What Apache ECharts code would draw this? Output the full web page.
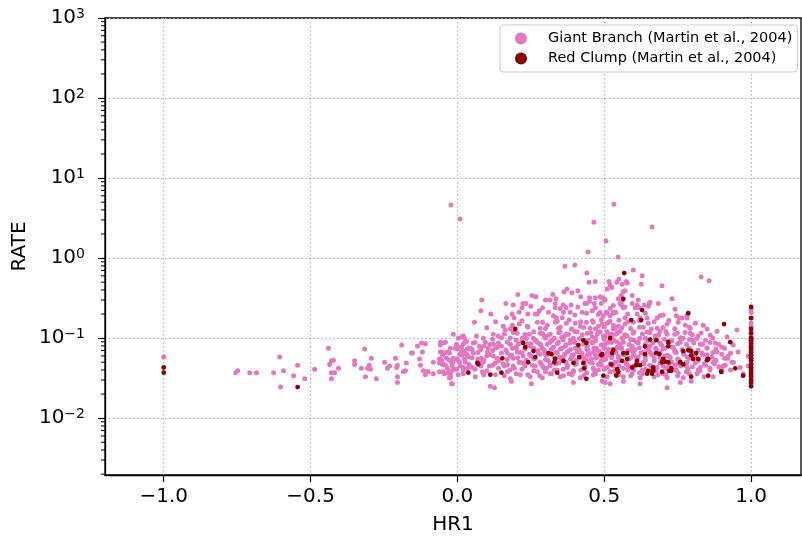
<!DOCTYPE html>
<html>
<head>
<meta charset="utf-8">
<script src="https://cdn.jsdelivr.net/npm/echarts@6/dist/echarts.min.js"></script>
<style>
  html, body { margin: 0; padding: 0; background: #fff; }
  #main { width: 802px; height: 540px; }
</style>
</head>
<body>
<div id="main"></div>
<script>
// HR1 vs RATE
var giantFar = [
    [-1.0,0.058],[-0.755,0.037],[-0.748,0.039],[-0.707,0.037],[-0.684,0.037],[-0.626,0.037],[-0.605,0.058],
    [-0.592,0.039],[-0.602,0.0245],[-0.558,0.034],[-0.544,0.046],[-0.520,0.031],[-0.486,0.041],[-0.439,0.075],
    [-0.435,0.047],[-0.429,0.052],[-0.422,0.053],[-0.429,0.037],[-0.418,0.037],[-0.429,0.031],[-0.405,0.042],
    [-0.350,0.052],[-0.350,0.047],[-0.327,0.042],[-0.316,0.073],[-0.313,0.033],[-0.300,0.046],[-0.306,0.042],
    [-0.296,0.041],[-0.293,0.056],[-0.276,0.031],[-0.248,0.050],[-0.238,0.042],[-0.231,0.045],[-0.211,0.056],
    [-0.207,0.043],[-0.204,0.046],[-0.204,0.033],[-0.204,0.028],[-0.190,0.082],[-0.184,0.038],[-0.177,0.039],
    [-0.174,0.049],[-0.156,0.065],[-0.153,0.065],[-0.136,0.080],[-0.129,0.055],[-0.126,0.046],[-0.122,0.087],
    [-0.109,0.085],[-0.119,0.067],[-0.116,0.039],[-0.109,0.035],[-0.105,0.038],[-0.099,0.038],[-0.082,0.050],
    [-0.082,0.036],[-0.061,0.055],[-0.054,0.053],[-0.058,0.089],[-0.048,0.087],[-0.058,0.067],[-0.054,0.067],
    [-0.044,0.065],[-0.061,0.049],[-0.051,0.049],[-0.041,0.046],[-0.037,0.056],[-0.027,0.065],[-0.027,0.053],
    [-0.020,0.050],[-0.014,0.052],[-0.061,0.038],[-0.048,0.038],[-0.034,0.037],[-0.020,0.039],[-0.010,0.041],
    [-0.024,0.035],[-0.027,0.032],[-0.017,0.027],[0.014,0.103],[0.024,0.100],[0.031,0.092],[-0.007,0.075],
    [0.003,0.077],[0.014,0.067],[0.024,0.065],[0.034,0.073],[-0.003,0.055],[0.003,0.053],[0.014,0.061],
    [0.024,0.055],[0.034,0.061],[-0.017,0.045],[-0.003,0.041],[0.007,0.050],[0.020,0.043],[0.020,0.036],[0.034,0.042]
];

var giantHigh = [
    [-0.022,4.6],[0.009,3.07],[0.533,4.7],[0.465,2.8],[0.506,1.63],[0.445,1.19],[0.547,1.03],[0.663,2.44],
    [0.366,0.79],[0.40,0.82],[0.441,0.65],[0.448,0.50],[0.469,0.51],[0.516,0.51],[0.52,0.46],[0.526,0.43],
    [0.543,0.50],[0.55,0.55],[0.599,0.71],[0.629,0.60],[0.626,0.47],[0.697,0.45],[0.83,0.58],[0.857,0.52],
    [0.51,0.41],[0.561,0.47],[0.575,0.51],[0.578,0.49],[0.565,0.38],[0.571,0.39],[0.558,0.34],[0.595,0.34],
    [0.083,0.30],[0.08,0.22],[0.114,0.20],[0.206,0.35],[0.165,0.27],[0.19,0.26],[0.223,0.27],[0.233,0.27],
    [0.254,0.34],[0.267,0.33],[0.25,0.25],[0.21,0.21],[0.22,0.24],[0.30,0.30],[0.315,0.30],[0.325,0.35],
    [0.336,0.31],[0.333,0.27],[0.333,0.24],[0.373,0.41],[0.363,0.38],[0.39,0.37],[0.41,0.39],[0.42,0.33],
    [0.36,0.26],[0.37,0.24],[0.387,0.26],[0.434,0.27],[0.44,0.27],[0.45,0.29],[0.45,0.32],[0.469,0.32],
    [0.486,0.33],[0.50,0.31],[0.167,0.18],[0.186,0.20],[0.193,0.18],[0.265,0.20],[0.279,0.22],[0.272,0.20],
    [0.327,0.19],[0.337,0.18],[0.361,0.21],[0.357,0.18],[0.384,0.21],[0.425,0.21],[0.459,0.22],[0.466,0.27],
    [0.507,0.21],[0.52,0.19],[0.531,0.21],[0.554,0.27],[0.548,0.31],[0.558,0.26],[0.565,0.24],[0.595,0.27],
    [0.605,0.24],[0.612,0.26],[0.636,0.26],[0.653,0.27],[0.65,0.25],[0.684,0.27],[0.731,0.31],[0.741,0.23],
    [0.745,0.19],[0.503,0.30],[0.49,0.27],[0.493,0.32],[0.486,0.21],[0.51,0.205],[0.531,0.205],[0.646,0.178],
    [0.622,0.18],[0.68,0.178],[0.755,0.178],[0.765,0.178],[0.782,0.178],[0.531,0.255],[0.561,0.29],
    [0.616,0.30],[0.656,0.28],[0.497,0.19],[0.571,0.18],[0.612,0.2],[0.69,0.19],[0.782,0.19]
];

var giantMid = [
    [0.058,0.158],[0.156,0.141],[0.187,0.145],[0.211,0.15],[0.238,0.141],[0.272,0.158],[0.282,0.133],
    [0.306,0.145],[0.333,0.158],[0.344,0.133],[0.371,0.154],[0.388,0.13],[0.401,0.154],[0.418,0.141],
    [0.439,0.158],[0.452,0.133],[0.463,0.158],[0.480,0.141],[0.510,0.154],[0.531,0.145],[0.548,0.141],
    [-0.014,0.112],[0.003,0.10],[0.020,0.106],[0.065,0.106],[0.088,0.10],[0.122,0.112],[0.139,0.106],
    [0.163,0.126],[0.180,0.10],[0.204,0.115],[0.221,0.10],[0.245,0.112],[0.259,0.10],[0.282,0.115],
    [0.296,0.106],[0.316,0.112],[0.330,0.10],[0.350,0.12],[0.364,0.106],[0.378,0.112],[0.395,0.10],
    [0.408,0.12],[0.442,0.115],[0.459,0.103],[0.476,0.112],[0.497,0.106],[0.510,0.12],[0.527,0.106],[0.541,0.112],
    [0.493,0.15],[0.514,0.158],[0.537,0.133],[0.571,0.15],[0.599,0.158],[0.633,0.137],[0.650,0.154],
    [0.680,0.133],[0.714,0.15],[0.752,0.158],[0.776,0.145],[0.793,0.133],[0.810,0.154],[0.837,0.145],
    [0.486,0.12],[0.503,0.106],[0.527,0.112],[0.554,0.122],[0.578,0.106],[0.599,0.115],[0.622,0.10],
    [0.646,0.119],[0.673,0.106],[0.690,0.122],[0.714,0.112],[0.748,0.115],[0.769,0.10],[0.793,0.115],
    [0.820,0.106],[0.861,0.109],[0.884,0.122],[0.918,0.103],[0.952,0.126]
];

var giantCore = [
    [-0.058,0.082],[-0.041,0.089],[-0.024,0.075],[-0.003,0.084],[0.014,0.077],[0.027,0.089],[0.044,0.075],
    [0.054,0.087],[0.075,0.079],[0.095,0.089],[0.105,0.075],[0.122,0.084],[0.136,0.077],[0.170,0.089],
    [0.187,0.075],[0.207,0.084],[0.248,0.079],[0.272,0.089],[0.289,0.075],[0.306,0.084],[0.327,0.077],
    [0.344,0.089],[0.367,0.079],[0.384,0.087],[0.401,0.075],[0.442,0.079],[0.459,0.089],[0.473,0.075],
    [0.503,0.084],[0.544,0.089],
    [-0.051,0.061],[-0.034,0.067],[-0.014,0.056],[0.007,0.063],[0.020,0.069],[0.037,0.058],[0.054,0.065],
    [0.082,0.056],[0.102,0.067],[0.122,0.060],[0.170,0.065],[0.190,0.056],[0.204,0.067],[0.224,0.060],
    [0.282,0.063],[0.296,0.069],[0.347,0.058],[0.374,0.067],[0.391,0.058],[0.408,0.067],[0.442,0.061],
    [0.463,0.067],[0.476,0.058],[0.510,0.065],[0.548,0.058],
    [-0.051,0.047],[-0.034,0.042],[-0.017,0.050],[0.010,0.045],[0.027,0.050],[0.051,0.043],[0.088,0.050],
    [0.109,0.045],[0.129,0.049],[0.170,0.047],[0.194,0.042],[0.214,0.050],[0.265,0.045],[0.282,0.050],
    [0.303,0.042],[0.316,0.047],[0.374,0.043],[0.401,0.047],[0.452,0.050],[0.463,0.042],[0.480,0.047],
    [0.503,0.042],[0.537,0.050],
    [-0.044,0.036],[-0.024,0.032],[0.003,0.035],[0.020,0.039],[0.061,0.033],[0.085,0.038],[0.129,0.035],
    [0.170,0.038],[0.180,0.031],[0.214,0.035],[0.248,0.033],[0.272,0.038],[0.289,0.032],[0.316,0.036],
    [0.361,0.034],[0.395,0.038],[0.418,0.032],[0.463,0.035],[0.520,0.038],
    [-0.020,0.027],[0.112,0.025],[0.126,0.024],[0.184,0.029],[0.252,0.027],[0.395,0.028],[0.493,0.029],
    [0.493,0.082],[0.514,0.089],[0.544,0.077],[0.565,0.089],[0.595,0.079],[0.616,0.087],[0.656,0.079],
    [0.690,0.087],[0.735,0.077],[0.759,0.089],[0.827,0.084],[0.850,0.075],[0.878,0.087],[0.901,0.077],[0.939,0.082],
    [0.497,0.058],[0.514,0.067],[0.548,0.060],[0.599,0.067],[0.616,0.058],[0.656,0.067],[0.707,0.060],
    [0.741,0.067],[0.782,0.058],[0.833,0.065],[0.867,0.058],[0.884,0.067],[0.922,0.060],[0.956,0.067],
    [0.486,0.049],[0.510,0.043],[0.537,0.050],[0.582,0.045],[0.633,0.050],[0.680,0.043],[0.741,0.046],
    [0.782,0.050],[0.827,0.043],[0.871,0.050],[0.912,0.046],[0.935,0.050],[0.963,0.043],
    [0.520,0.038],[0.565,0.033],[0.595,0.036],[0.622,0.032],[0.684,0.035],[0.714,0.032],[0.752,0.037],
    [0.769,0.032],[0.816,0.036],[0.871,0.033],[0.901,0.038],[0.973,0.036],
    [0.503,0.028],[0.520,0.027],[0.565,0.029],[0.622,0.027],[0.714,0.024],[0.759,0.028],[0.796,0.029]
];

var giantFill = [
    [0.26,0.055],[0.275,0.07],[0.29,0.045],[0.3,0.062],[0.31,0.052],[0.32,0.072],[0.335,0.048],[0.34,0.066],
    [0.355,0.075],[0.36,0.058],[0.37,0.05],[0.38,0.07],[0.395,0.062],[0.405,0.053],[0.415,0.072],[0.425,0.064],
    [0.43,0.056],[0.445,0.07],[0.455,0.055],[0.465,0.075],[0.47,0.062],[0.485,0.068],[0.49,0.052],[0.5,0.075],
    [0.505,0.055],[0.515,0.072],[0.525,0.06],[0.53,0.045],[0.54,0.068],[0.55,0.052],[0.555,0.075],[0.565,0.062],
    [0.575,0.048],[0.58,0.07],[0.59,0.057],[0.6,0.045],[0.605,0.072],[0.61,0.05],[0.625,0.065],[0.63,0.04],
    [0.64,0.058],[0.645,0.072],[0.655,0.046],[0.665,0.062],[0.67,0.052],[0.68,0.07],[0.69,0.056],[0.7,0.045],
    [0.705,0.075],[0.72,0.06],[0.73,0.05],[0.74,0.07],[0.75,0.055],[0.76,0.045],[0.77,0.065],[0.78,0.05],
    [0.79,0.07],[0.8,0.044],[0.81,0.06],[0.82,0.052],[0.84,0.048],[0.85,0.062],[0.86,0.04],[0.88,0.052],
    [0.89,0.044],[0.91,0.056],[0.93,0.04],[0.94,0.05],
    [0.28,0.085],[0.32,0.092],[0.36,0.095],[0.4,0.09],[0.43,0.095],[0.47,0.092],[0.52,0.095],[0.56,0.1],
    [0.6,0.095],[0.64,0.1],[0.68,0.096],[0.72,0.092],[0.76,0.1],[0.8,0.095],
    [0.3,0.038],[0.34,0.04],[0.38,0.036],[0.42,0.04],[0.44,0.037],[0.48,0.04],[0.54,0.036],[0.58,0.04],
    [0.62,0.037],[0.66,0.04],[0.7,0.036],[0.74,0.04],[0.78,0.038],[0.82,0.04],
    [0.1,0.06],[0.12,0.07],[0.14,0.052],[0.15,0.08],[0.16,0.045],[0.18,0.06],[0.2,0.075],[0.21,0.05],
    [0.22,0.065],[0.23,0.045],[0.24,0.085],[0.25,0.06],[0.05,0.072],[0.07,0.055],[0.08,0.045],[0.09,0.08]
];

var giantDense = [
    [0.16,0.113],[0.19,0.118],[0.23,0.111],[0.26,0.12],[0.29,0.114],[0.31,0.109],[0.345,0.117],[0.37,0.112],
    [0.40,0.121],[0.425,0.11],[0.455,0.116],[0.48,0.119],[0.52,0.112],[0.545,0.118],[0.57,0.11],[0.6,0.12],
    [0.63,0.113],[0.655,0.117],[0.685,0.11],[0.71,0.121],[0.74,0.112],[0.775,0.118],[0.8,0.11],[0.83,0.116],
    [0.12,0.097],[0.15,0.101],[0.2,0.095],[0.235,0.099],[0.265,0.094],[0.3,0.1],[0.325,0.096],[0.355,0.102],
    [0.385,0.095],[0.415,0.099],[0.445,0.094],[0.47,0.1],[0.5,0.097],[0.535,0.093],[0.565,0.101],[0.59,0.096],
    [0.62,0.099],[0.65,0.094],[0.675,0.1],[0.705,0.097],[0.73,0.093],[0.76,0.101],[0.79,0.096],[0.815,0.099],
    [0.845,0.094],[0.87,0.1],
    [0.02,0.085],[0.06,0.088],[0.11,0.083],[0.14,0.087],[0.18,0.084],[0.22,0.089],[0.25,0.085],[0.285,0.082],
    [0.315,0.088],[0.34,0.085],[0.37,0.083],[0.4,0.088],[0.43,0.084],[0.46,0.087],[0.49,0.082],[0.525,0.088],
    [0.555,0.085],[0.585,0.083],[0.61,0.089],[0.64,0.084],[0.665,0.087],[0.695,0.082],[0.72,0.088],[0.75,0.085],
    [0.78,0.083],[0.805,0.087],[0.835,0.084],[0.86,0.088],[0.89,0.083],
    [0.0,0.073],[0.04,0.076],[0.08,0.072],[0.13,0.075],[0.165,0.071],[0.2,0.077],[0.23,0.073],[0.26,0.075],
    [0.295,0.071],[0.325,0.076],[0.35,0.073],[0.385,0.072],[0.41,0.076],[0.44,0.073],[0.475,0.071],[0.5,0.077],
    [0.53,0.073],[0.56,0.075],[0.59,0.071],[0.62,0.076],[0.65,0.072],[0.675,0.075],[0.7,0.073],[0.73,0.077],
    [0.765,0.072],[0.79,0.075],[0.82,0.071],[0.85,0.076],[0.88,0.073],[0.91,0.075],
    [0.03,0.063],[0.07,0.066],[0.11,0.062],[0.15,0.065],[0.185,0.061],[0.215,0.066],[0.245,0.063],[0.275,0.065],
    [0.305,0.062],[0.335,0.066],[0.365,0.063],[0.39,0.061],[0.42,0.066],[0.45,0.063],[0.485,0.065],[0.515,0.061],
    [0.54,0.066],[0.57,0.063],[0.6,0.062],[0.63,0.066],[0.66,0.063],[0.69,0.065],[0.715,0.061],[0.745,0.066],
    [0.77,0.063],[0.8,0.065],[0.835,0.062],[0.87,0.066],[0.9,0.063],[0.93,0.065],
    [0.0,0.055],[0.05,0.057],[0.09,0.053],[0.135,0.056],[0.17,0.054],[0.205,0.057],[0.235,0.053],[0.265,0.056],
    [0.3,0.054],[0.33,0.057],[0.355,0.053],[0.385,0.055],[0.415,0.057],[0.44,0.053],[0.47,0.056],[0.5,0.054],
    [0.525,0.057],[0.555,0.053],[0.585,0.055],[0.61,0.057],[0.64,0.053],[0.67,0.056],[0.7,0.054],[0.725,0.057],
    [0.755,0.053],[0.79,0.056],[0.82,0.054],[0.85,0.057],[0.88,0.053],[0.92,0.056],
    [0.04,0.047],[0.08,0.049],[0.12,0.046],[0.155,0.048],[0.19,0.045],[0.225,0.049],[0.255,0.046],[0.285,0.048],
    [0.315,0.045],[0.345,0.049],[0.375,0.046],[0.405,0.048],[0.435,0.045],[0.46,0.049],[0.49,0.046],[0.52,0.048],
    [0.55,0.045],[0.575,0.049],[0.605,0.046],[0.635,0.048],[0.66,0.045],[0.69,0.049],[0.72,0.046],[0.75,0.048],
    [0.78,0.045],[0.81,0.049],[0.845,0.046],[0.875,0.048],[0.905,0.045],
    [0.06,0.041],[0.1,0.039],[0.14,0.042],[0.18,0.04],[0.22,0.041],[0.26,0.039],[0.295,0.042],[0.33,0.04],
    [0.36,0.041],[0.395,0.039],[0.43,0.042],[0.465,0.04],[0.5,0.041],[0.535,0.039],[0.565,0.042],[0.6,0.04],
    [0.64,0.041],[0.675,0.039],[0.71,0.042],[0.745,0.04],[0.785,0.041],[0.825,0.039],[0.86,0.042],[0.9,0.04],
    [0.09,0.035],[0.16,0.034],[0.2,0.036],[0.24,0.035],[0.28,0.034],[0.32,0.036],[0.35,0.033],[0.39,0.035],
    [0.43,0.034],[0.47,0.036],[0.51,0.033],[0.55,0.035],[0.59,0.034],[0.63,0.036],[0.67,0.033],[0.71,0.035],
    [0.75,0.034],[0.79,0.036],[0.84,0.033],
    [0.1,0.135],[0.18,0.13],[0.24,0.138],[0.3,0.132],[0.35,0.137],[0.39,0.13],[0.43,0.136],[0.47,0.131],
    [0.5,0.138],[0.53,0.13],[0.56,0.135],[0.59,0.132],[0.62,0.137],[0.66,0.13],[0.7,0.136],[0.74,0.131],
    [0.79,0.137],[0.85,0.13],
    [0.13,0.16],[0.22,0.165],[0.29,0.158],[0.34,0.163],[0.38,0.168],[0.42,0.16],[0.46,0.165],[0.49,0.17],
    [0.52,0.162],[0.55,0.167],[0.58,0.16],[0.62,0.165],[0.67,0.16],[0.72,0.166],
    [0.24,0.2],[0.31,0.21],[0.4,0.195],[0.44,0.205],[0.48,0.198],[0.54,0.21],[0.58,0.2],[0.64,0.205],[0.7,0.195],
    [0.29,0.24],[0.35,0.235],[0.41,0.245],[0.47,0.24],[0.52,0.235],[0.57,0.245],[0.62,0.24]
];

var giantEdge = [
    [1.0,0.23],[1.0,0.21],[1.0,0.178],[1.0,0.154],[1.0,0.141],[1.0,0.12],[1.0,0.103],[1.0,0.094],[1.0,0.084],
    [1.0,0.075],[1.0,0.067],[1.0,0.06],[1.0,0.053],[1.0,0.047],[1.0,0.042],[1.0,0.038],[1.0,0.034],[1.0,0.03],
    [1.0,0.027],[0.99,0.06],[0.99,0.045]
];

var clumpMain = [
    [-1.0,0.043],[-1.0,0.037],[-0.544,0.0245],
    [0.197,0.13],[0.224,0.087],[0.231,0.077],[0.259,0.069],[0.265,0.058],[0.241,0.050],[0.310,0.065],
    [0.320,0.063],[0.333,0.055],[0.330,0.050],[0.361,0.052],[0.395,0.049],[0.412,0.082],[0.429,0.094],
    [0.439,0.087],[0.415,0.058],[0.429,0.049],[0.432,0.042],[0.439,0.031],[0.340,0.037],[0.153,0.056],
    [0.150,0.037],[0.112,0.035],[0.068,0.049],[0.071,0.047],[0.037,0.037],[0.497,0.034],[0.490,0.061],
    [0.568,0.65],[0.565,0.31],[0.629,0.224],[0.786,0.205],[0.592,0.168],[0.626,0.168],[0.908,0.15],
    [0.929,0.089],[0.520,0.10],[0.677,0.094],[0.718,0.089],[0.718,0.079],[0.769,0.069],[0.786,0.071],
    [0.796,0.069],[0.813,0.065],[0.796,0.061],[0.854,0.055],[0.850,0.053],[0.898,0.038],[0.946,0.042],
    [0.973,0.034],[0.854,0.034],[0.796,0.033],[0.531,0.071],[0.527,0.065],[0.565,0.065],[0.578,0.065],
    [0.561,0.052],[0.578,0.055],[0.609,0.046],[0.622,0.046],[0.595,0.043],[0.639,0.079],[0.639,0.063],
    [0.677,0.065],[0.687,0.063],[0.701,0.055],[0.697,0.05],[0.718,0.05],[0.728,0.042],[0.721,0.039],
    [0.728,0.039],[0.759,0.05],[0.769,0.047],[0.803,0.055],[0.820,0.055],[0.667,0.043],[0.667,0.039],
    [0.650,0.039],[0.697,0.038],[0.646,0.036],[0.663,0.036],[0.548,0.038],[0.541,0.034],[0.493,0.063],[0.524,0.047],
    [0.656,0.096],[0.707,0.051],[0.544,0.041],[0.612,0.052]
];

var clumpEdge = [
    [1.0,0.245],[1.0,0.178],[1.0,0.13],[1.0,0.115],[1.0,0.1],[1.0,0.094],[1.0,0.087],[1.0,0.079],[1.0,0.073],
    [1.0,0.067],[1.0,0.061],[1.0,0.056],[1.0,0.052],[1.0,0.047],[1.0,0.043],[1.0,0.039],[1.0,0.036],
    [1.0,0.033],[1.0,0.03],[1.0,0.028],[1.0,0.025]
];

var xTicks = [-1.0, -0.5, 0.0, 0.5, 1.0];
var yTicks = [0.01, 0.1, 1, 10, 100, 1000];
var xMin = -1.2, xMax = 1.17;
var yMin = 0.00195, yMax = 1000;

// minor tick values 2..9 x 10^n (drawn by a small custom series, positioned by the log axis)
var yMinorTicks = [];
for (var e = -3; e <= 2; e++) {
    for (var k = 2; k <= 9; k++) {
        var v = k * Math.pow(10, e);
        if (v > yMin) yMinorTicks.push([xMin, +v.toPrecision(3)]);
    }
}

var giantData = giantFar.concat(giantHigh, giantMid, giantDense, giantCore, giantFill, giantEdge);
var clumpData = clumpMain.concat(clumpEdge);

var font = 'DejaVu Sans';
var myChart = echarts.init(document.getElementById('main'));

var option = {
    animation: false,
    textStyle: { fontFamily: font },
    grid: {
        left: 105, right: 1, top: 18, bottom: 65,
        show: true, borderColor: '#000', borderWidth: 1.3
    },
    legend: {
        left: 500, top: 25,
        orient: 'vertical',
        padding: [6, 5, 6, 15],
        itemGap: 5,
        itemWidth: 12, itemHeight: 12,
        backgroundColor: 'rgba(255,255,255,0.8)',
        borderColor: '#cccccc', borderWidth: 1, borderRadius: 3,
        textStyle: { fontFamily: font, fontSize: 14.5, color: '#000', padding: [0, 0, 0, 16] },
        data: [
            { name: 'Giant Branch (Martin et al., 2004)', icon: 'circle' },
            { name: 'Red Clump (Martin et al., 2004)', icon: 'circle' }
        ]
    },
    xAxis: {
        type: 'value',
        min: xMin, max: xMax,
        name: 'HR1',
        nameLocation: 'middle',
        nameGap: 40,
        nameMoveOverlap: false,
        nameTextStyle: { fontFamily: font, fontSize: 20, color: '#000' },
        axisLine: { onZero: false, lineStyle: { color: '#000', width: 1.3 } },
        axisTick: { customValues: xTicks, length: 7, lineStyle: { color: '#000', width: 1.2 } },
        axisLabel: {
            customValues: xTicks,
            margin: 12,
            fontFamily: font, fontSize: 20, color: '#000',
            formatter: function(v) { return v.toFixed(1).replace('-', '\u2212'); }
        },
        splitLine: { show: true, lineStyle: { color: '#b0b0b0', width: 1.2, type: [1.5, 2.5] } }
    },
    yAxis: {
        type: 'log',
        min: yMin, max: yMax,
        name: 'RATE',
        nameLocation: 'middle',
        nameGap: 75,
        nameMoveOverlap: false,
        nameRotate: 90,
        nameTextStyle: { fontFamily: font, fontSize: 20, color: '#000' },
        axisLine: { onZero: false, lineStyle: { color: '#000', width: 1.3 } },
        axisTick: { customValues: yTicks, length: 7, lineStyle: { color: '#000', width: 1.2 } },
        axisLabel: {
            customValues: yTicks,
            margin: 20,
            color: '#000',
            formatter: function(v) {
                var p = Math.round(Math.log(v) / Math.LN10);
                return '{b|10}{s|' + String(p).replace('-', '\u2212') + '}';
            },
            rich: {
                b: { fontFamily: font, fontSize: 20, lineHeight: 22, color: '#000' },
                s: { fontFamily: font, fontSize: 14, lineHeight: 14, verticalAlign: 'top', color: '#000' }
            }
        },
        splitLine: { show: true, lineStyle: { color: '#b0b0b0', width: 1.2, type: [1.5, 2.5] } }
    },
    series: [{
        name: 'Giant Branch (Martin et al., 2004)',
        type: 'scatter',
        symbolSize: 5,
        itemStyle: { color: '#e377c2', opacity: 1 },
        data: giantData
    }, {
        name: 'Red Clump (Martin et al., 2004)',
        type: 'scatter',
        symbolSize: 4.8,
        itemStyle: { color: '#8b0000', opacity: 1 },
        data: clumpData
    }, {
        name: 'minor ticks',
        type: 'custom',
        silent: true,
        clip: false,
        z: 10,
        renderItem: function(params, api) {
            var p = api.coord([api.value(0), api.value(1)]);
            return {
                type: 'line',
                shape: { x1: p[0] - 4, y1: p[1], x2: p[0], y2: p[1] },
                style: { stroke: '#000', lineWidth: 1 }
            };
        },
        data: yMinorTicks
    }]
};

myChart.setOption(option);
</script>
</body>
</html>
